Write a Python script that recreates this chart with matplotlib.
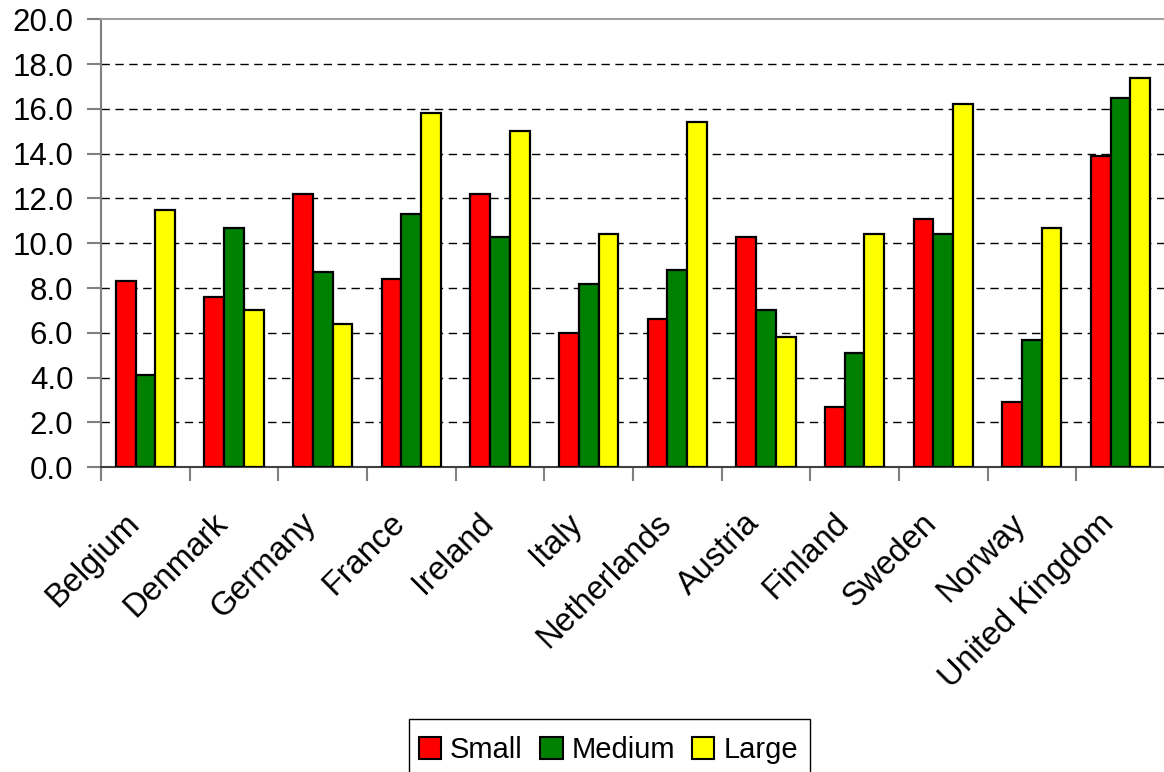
import matplotlib
matplotlib.use("Agg")
import matplotlib.pyplot as plt
import matplotlib.transforms as mtransforms
from matplotlib.patches import Rectangle
import numpy as np

plt.rcParams["font.family"] = ["Liberation Sans", "DejaVu Sans"]

countries = ["Belgium", "Denmark", "Germany", "France", "Ireland", "Italy",
             "Netherlands", "Austria", "Finland", "Sweden", "Norway",
             "United Kingdom"]
small = [8.3, 7.6, 12.2, 8.4, 12.2, 6.0, 6.6, 10.3, 2.7, 11.1, 2.9, 13.9]
medium = [4.1, 10.7, 8.7, 11.3, 10.3, 8.2, 8.8, 7.0, 5.1, 10.4, 5.7, 16.5]
large = [11.5, 7.0, 6.4, 15.8, 15.0, 10.4, 15.4, 5.8, 10.4, 16.2, 10.7, 17.4]

series = [("Small", small, "#ff0000"),
          ("Medium", medium, "#008000"),
          ("Large", large, "#ffff00")]

fig = plt.figure(figsize=(11.64, 7.72), dpi=100)
ax = fig.add_axes([0.0868, 0.3947, 0.914, 0.5803])

x = np.arange(len(countries))
w = 1 / 1.5 / 3
for i, (name, vals, col) in enumerate(series):
    ax.bar(x + (i - 1) * w, vals, width=w, color=col, edgecolor="black",
           linewidth=1.6, label=name, zorder=3)

ax.set_xlim(-0.5, len(countries) - 0.5)
ax.set_ylim(0, 20)
yt = np.arange(0, 20.1, 2)
ax.set_yticks(yt)
ax.set_yticklabels([f"{v:.1f}" for v in yt], fontsize=22.5)

# tick marks at category boundaries, names at the centres
ax.set_xticks(np.arange(-0.5, len(countries)))
ax.set_xticklabels([])
ax.set_xticks(x, minor=True)
ax.set_xticklabels(countries, minor=True, rotation=45, ha="right",
                   va="center", rotation_mode="anchor", fontsize=23.5)
ax.tick_params(axis="x", which="minor", length=0, pad=37)
ax.tick_params(axis="x", which="major", length=10, width=1.5, color="#808080",
               direction="out")
ax.tick_params(axis="y", length=10, width=1.5, color="#808080", direction="out",
               pad=10)
shift = mtransforms.ScaledTranslation(-0.11, 0, fig.dpi_scale_trans)
for lab in ax.get_xticklabels(minor=True):
    lab.set_transform(lab.get_transform() + shift)

for v in yt[1:-1]:
    ax.axhline(v, color="black", linestyle=(0, (6, 4)), linewidth=1, zorder=1)

ax.spines["top"].set_color("#a0a0a0")
ax.spines["top"].set_linewidth(1.5)
ax.spines["left"].set_color("#808080")
ax.spines["left"].set_linewidth(1.5)
ax.spines["bottom"].set_color("#404040")
ax.spines["bottom"].set_linewidth(1.5)
ax.spines["right"].set_visible(False)

# legend box runs off the bottom edge, so its frame is drawn separately
leg = fig.legend(loc="upper left", bbox_to_anchor=(409 / 1164, 1 - 726 / 772),
                 ncol=3, fontsize=21, frameon=False,
                 handlelength=0.76, handleheight=0.76, handletextpad=0.3,
                 columnspacing=0.6, borderpad=0.35, borderaxespad=0)
for h in leg.legend_handles:
    h.set_linewidth(1.5)
fig.patches.append(Rectangle((409 / 1164, -0.02), 401 / 1164, 0.02 + 53 / 772,
                             transform=fig.transFigure, fill=False,
                             edgecolor="black", linewidth=1))

fig.savefig("out.png", dpi=100)
